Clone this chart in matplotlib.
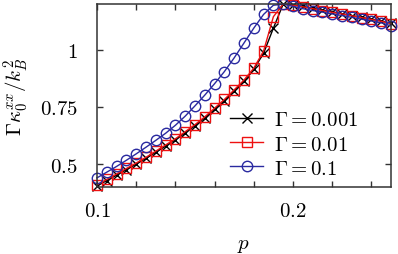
import numpy as np
import matplotlib
matplotlib.use('Agg')
import matplotlib.pyplot as plt
from matplotlib.ticker import MultipleLocator

plt.rcParams['mathtext.fontset'] = 'cm'
plt.rcParams['font.family'] = 'serif'
plt.rcParams['font.serif'] = ['DejaVu Serif']

# p grid, 0.1 .. 0.25 in steps of 0.005
p = np.round(np.arange(0.1, 0.2501, 0.005), 3)

kappa_g001 = [0.405, 0.428, 0.452, 0.476, 0.500, 0.525, 0.552, 0.579, 0.606, 0.637,
              0.668, 0.702, 0.740, 0.778, 0.820, 0.863, 0.915, 0.985, 1.095, 1.200,
              1.197, 1.190, 1.182, 1.174, 1.166, 1.158, 1.150, 1.142, 1.134, 1.126, 1.116]
kappa_g01 = [0.410, 0.433, 0.457, 0.481, 0.505, 0.530, 0.557, 0.584, 0.611, 0.642,
             0.673, 0.707, 0.745, 0.783, 0.825, 0.868, 0.920, 0.995, 1.145, 1.200,
             1.195, 1.188, 1.180, 1.172, 1.164, 1.157, 1.149, 1.141, 1.133, 1.125, 1.115]
kappa_g1 = [0.440, 0.465, 0.490, 0.517, 0.545, 0.574, 0.604, 0.635, 0.670, 0.710,
            0.755, 0.802, 0.852, 0.905, 0.965, 1.030, 1.095, 1.155, 1.195, 1.200,
            1.190, 1.180, 1.172, 1.165, 1.157, 1.150, 1.142, 1.134, 1.126, 1.118, 1.105]

labels = [r'$\Gamma = 0.001$', r'$\Gamma = 0.01$', r'$\Gamma = 0.1$']

fig = plt.figure(figsize=(3.98, 2.55), dpi=100)
ax = fig.add_axes([0.2437, 0.2627, 0.9824 - 0.2437, 0.980 - 0.2627])

ax.plot(p, kappa_g001, color='black', marker='x', markersize=6.5, lw=1.0,
        mew=1.0, label=labels[0], clip_on=False)
ax.plot(p, kappa_g01, color='#ee1111', marker='s', markersize=6.5, lw=1.0,
        mew=1.0, mfc='none', label=labels[1], clip_on=False)
ax.plot(p, kappa_g1, color='#2a2aa0', marker='o', markersize=7.5, lw=1.0,
        mew=1.0, mfc='none', label=labels[2], clip_on=False)

ax.set_xlim(0.1, 0.25)
ax.set_ylim(0.4, 1.2)
ax.set_xticks([0.1, 0.2])
ax.set_xticklabels([r'$0.1$', r'$0.2$'])
ax.xaxis.set_minor_locator(MultipleLocator(0.02))
ax.set_yticks([0.5, 0.75, 1.0])
ax.set_yticklabels([r'$0.5$', r'$0.75$', r'$1$'])

ax.tick_params(which='both', direction='in', top=True, right=True,
               length=4, width=1.0, labelsize=15, color='#333333')
ax.tick_params(axis='x', pad=10)
ax.tick_params(axis='y', pad=14)
for s in ax.spines.values():
    s.set_linewidth(1.1)
    s.set_color('#333333')

ax.set_xlabel(r'$p$', fontsize=15, labelpad=11)
ax.set_ylabel(r'$\Gamma\kappa_0^{xx}/k_B^2$', fontsize=15, labelpad=6)

ax.legend(loc='center left', frameon=False, fontsize=15, handlelength=1.6,
          handletextpad=0.5, labelspacing=0.25, borderaxespad=0.0,
          borderpad=0.0, bbox_to_anchor=(0.452, 0.235))

fig.savefig('out.png', dpi=100)
